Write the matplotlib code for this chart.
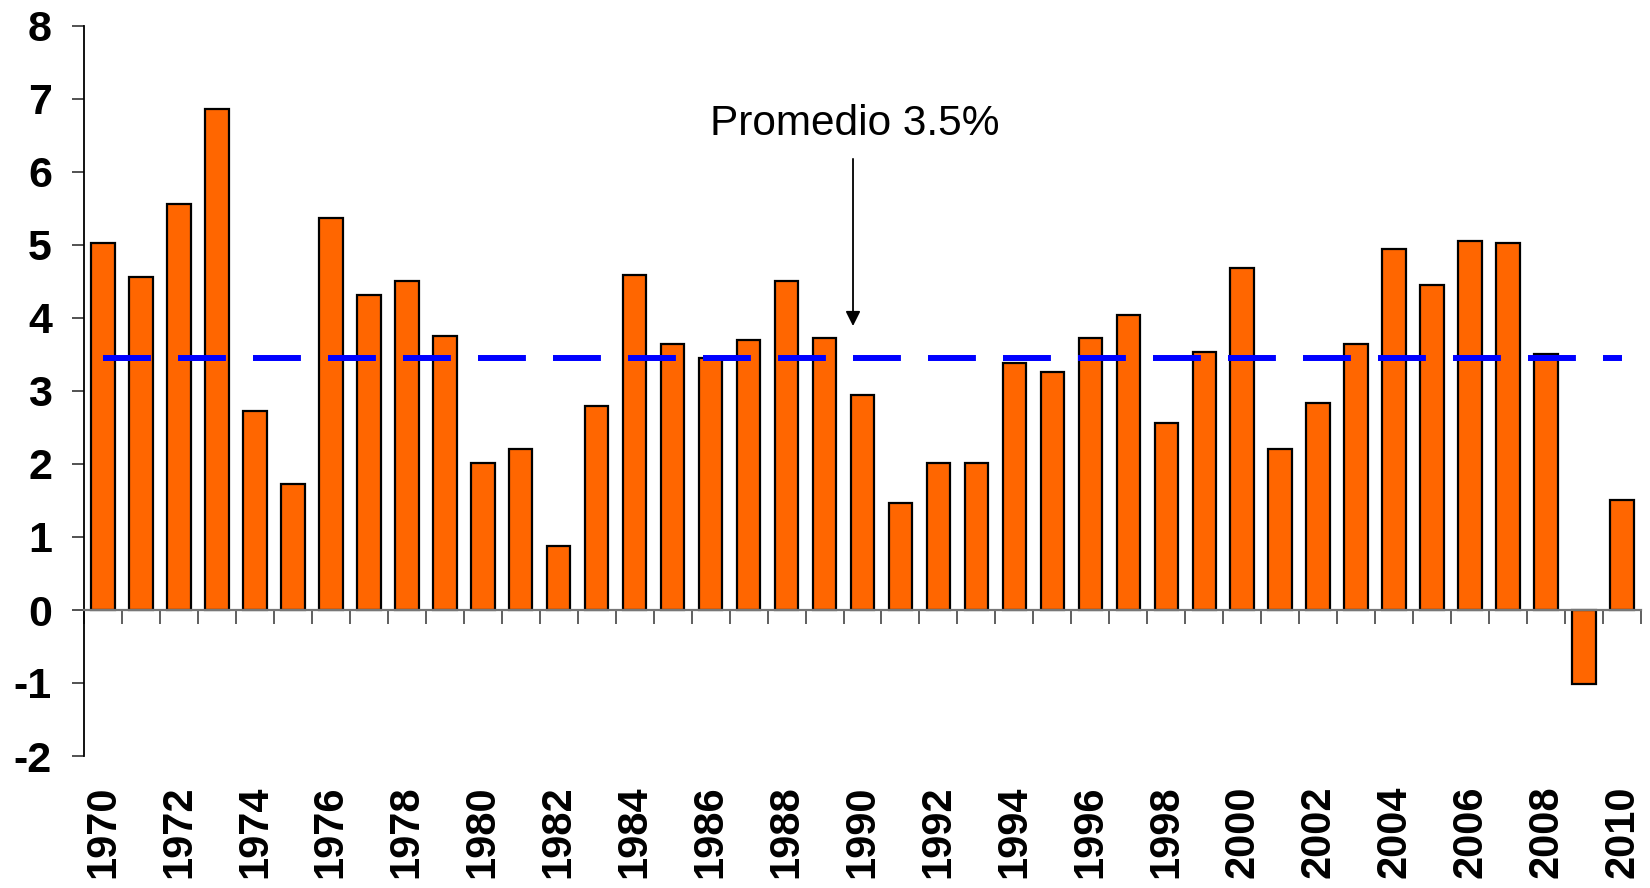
import matplotlib
matplotlib.use("Agg")
import matplotlib.pyplot as plt
import numpy as np

plt.rcParams['font.family'] = ['Liberation Sans', 'DejaVu Sans']
plt.rcParams['lines.scale_dashes'] = False

years = list(range(1970, 2011))
values = [5.03, 4.56, 5.56, 6.86, 2.73, 1.73, 5.37, 4.32, 4.51, 3.75,
          2.02, 2.21, 0.88, 2.80, 4.59, 3.64, 3.45, 3.70, 4.51, 3.73,
          2.95, 1.46, 2.02, 2.02, 3.38, 3.26, 3.73, 4.04, 2.56, 3.54,
          4.68, 2.21, 2.83, 3.64, 4.94, 4.45, 5.05, 5.03, 3.51, -1.01,
          1.50]
promedio = 3.45
annot_text = "Promedio 3.5%"
yticks = list(range(-2, 9))

fig = plt.figure(figsize=(16.5, 8.88), dpi=100)
ax = fig.add_axes([84/1650, 1-756/888, (1641-84)/1650, (756-26)/888])

x = np.arange(len(years))
ax.bar(x, values, width=0.62, color='#FF6600', edgecolor='black', linewidth=1.6, zorder=2)

ax.plot([x[0], x[-1]], [promedio, promedio], color='#0000FF', lw=4.3,
        dashes=(34.5, 19.5), solid_capstyle='butt', dash_capstyle='butt', zorder=3)

ax.set_xlim(-0.5, len(years) - 0.5)
ax.set_ylim(-2, 8)
ax.set_yticks(yticks)
ax.set_yticklabels([str(t) for t in yticks], fontsize=31, fontweight='bold')
ax.tick_params(axis='y', length=9, width=1.2, pad=14, color='#333333')

ax.spines['top'].set_visible(False)
ax.spines['right'].set_visible(False)
ax.spines['left'].set_linewidth(1.3)
ax.spines['bottom'].set_position(('data', 0))
ax.spines['bottom'].set_color('#777777')
ax.spines['bottom'].set_linewidth(1.6)

ax.set_xticks(x[::2])
ax.set_xticklabels([str(y) for y in years[::2]], rotation=90, fontsize=30,
                   fontweight='bold', va='top')
ax.set_xticks(np.arange(len(years) + 1) - 0.5, minor=True)
ax.tick_params(axis='x', which='major', length=0, pad=126)
ax.tick_params(axis='x', which='minor', length=10, width=1.2, color='#444444', direction='out')

ax.annotate("", xy=(19.75, 3.89), xytext=(19.75, 6.18),
            arrowprops=dict(arrowstyle='-|>', color='black', lw=1.3,
                            mutation_scale=22, shrinkA=0, shrinkB=0))
ax.text(19.8, 6.66, annot_text, ha='center', va='center', fontsize=30.5)

fig.savefig("out.png", dpi=100)
